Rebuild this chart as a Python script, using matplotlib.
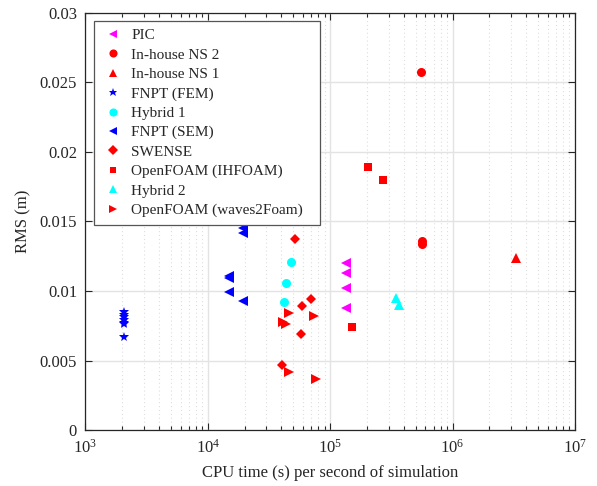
import matplotlib
matplotlib.use('Agg')
import matplotlib.pyplot as plt
import numpy as np
from matplotlib.ticker import LogLocator, FixedLocator

plt.rcParams['font.family'] = ['Liberation Serif', 'DejaVu Serif']
plt.rcParams['mathtext.fontset'] = 'custom'
plt.rcParams['mathtext.rm'] = 'Liberation Serif'
plt.rcParams['mathtext.it'] = 'Liberation Serif:italic'

# data
pic_x = [1.36e5, 1.36e5, 1.36e5, 1.36e5]
pic_y = [0.0120, 0.0113, 0.0102, 0.0088]
ns2_x = [5.55e5, 5.6e5, 5.6e5]
ns2_y = [0.0257, 0.0136, 0.0134]
ns1_x = [3.3e6]
ns1_y = [0.0124]
fem_x = [2050, 2050, 2050, 2050, 2050, 2050, 2050]
fem_y = [0.0085, 0.0083, 0.0081, 0.0079, 0.0077, 0.0076, 0.0067]
hyb1_x = [47900, 43400, 42000]
hyb1_y = [0.0121, 0.0106, 0.0092]
sem_x = [19500, 19500, 15000, 15000, 15000, 19500]
sem_y = [0.0145, 0.0142, 0.0111, 0.0109, 0.0099, 0.0093]
swense_x = [51400, 70300, 58600, 58100, 40600]
swense_y = [0.0137, 0.0094, 0.0089, 0.0069, 0.0047]
ihfoam_x = [205000, 271000, 150000]
ihfoam_y = [0.0189, 0.0180, 0.0074]
hyb2_x = [344000, 362000]
hyb2_y = [0.0095, 0.0090]
w2f_x = [45700, 41000, 43600, 73600, 45700, 76000]
w2f_y = [0.0084, 0.0078, 0.0076, 0.0082, 0.0042, 0.0037]

y_ticks = [0, 0.005, 0.01, 0.015, 0.02, 0.025, 0.03]
y_labels = ['0', '0.005', '0.01', '0.015', '0.02', '0.025', '0.03']

txt = '#262626'
fig = plt.figure(figsize=(5.97, 4.86), dpi=100)
ax = fig.add_axes([0.143, 0.115, 0.820, 0.859])

series = [
    (pic_x, pic_y, '<', 'magenta', 'PIC', 7),
    (ns2_x, ns2_y, 'o', 'red', 'In-house NS 2', 6.5),
    (ns1_x, ns1_y, '^', 'red', 'In-house NS 1', 7),
    (fem_x, fem_y, '*', 'blue', 'FNPT (FEM)', 7),
    (hyb1_x, hyb1_y, 'o', 'cyan', 'Hybrid 1', 6.5),
    (sem_x, sem_y, '<', 'blue', 'FNPT (SEM)', 7),
    (swense_x, swense_y, 'D', 'red', 'SWENSE', 5.2),
    (ihfoam_x, ihfoam_y, 's', 'red', 'OpenFOAM (IHFOAM)', 5.5),
    (hyb2_x, hyb2_y, '^', 'cyan', 'Hybrid 2', 7),
    (w2f_x, w2f_y, '>', 'red', 'OpenFOAM (waves2Foam)', 7),
]
for x, y, m, c, lab, ms in series:
    ax.plot(x, y, linestyle='none', marker=m, color=c, markersize=ms,
            markeredgewidth=0, label=lab, zorder=3)

ax.set_xscale('log')
ax.set_xlim(1e3, 1e7)
ax.set_ylim(0, 0.03)
ax.xaxis.set_major_locator(LogLocator(base=10, numticks=10))
ax.xaxis.set_minor_locator(LogLocator(base=10, subs=np.arange(2, 10), numticks=20))
ax.yaxis.set_major_locator(FixedLocator(y_ticks))
ax.set_yticklabels(y_labels)

ax.grid(True, which='major', color='#e3e3e3', linewidth=1.0, linestyle='-', zorder=0)
ax.grid(True, which='minor', axis='x', color='#dedede', linewidth=0.8, linestyle=(0, (1, 2.5)), zorder=0)
ax.set_axisbelow(True)

ax.tick_params(which='both', direction='in', top=True, right=True, colors=txt,
               labelsize=12, width=0.8)
ax.tick_params(which='major', length=5, pad=6)
ax.tick_params(which='minor', length=3)
for s in ax.spines.values():
    s.set_color(txt)
    s.set_linewidth(0.9)

ax.set_xlabel('CPU time (s) per second of simulation', fontsize=12, color=txt, labelpad=6)
ax.set_ylabel('RMS (m)', fontsize=12, color=txt, labelpad=6)

# legend box stretched to the reference width
leg = ax.legend(loc='upper left', bbox_to_anchor=(0.0176, 0.0, 0.4616, 0.98),
                mode='expand', fontsize=11,
                frameon=True, fancybox=False, handlelength=1.47, handletextpad=0.46,
                labelspacing=0.37, borderpad=0.5, borderaxespad=0, numpoints=1,
                markerscale=0.9)
leg.get_frame().set_edgecolor('#555555')
leg.get_frame().set_linewidth(0.9)
leg.get_frame().set_alpha(1)
for t in leg.get_texts():
    t.set_color(txt)

fig.savefig('out.png', dpi=100)
